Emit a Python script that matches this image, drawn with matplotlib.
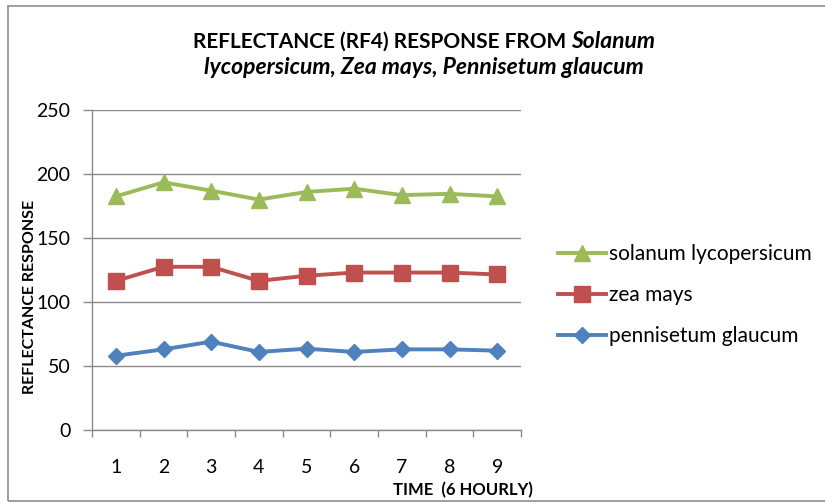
import matplotlib

matplotlib.use("Agg")
import matplotlib.pyplot as plt
from matplotlib.patches import Rectangle
from matplotlib.lines import Line2D

plt.rcParams["font.family"] = ["Lato", "DejaVu Sans"]

time_steps = [1, 2, 3, 4, 5, 6, 7, 8, 9]
solanum = [182.5, 193.5, 187, 180, 186, 188.5, 183.5, 184.5, 182.5]
zea = [116.5, 127.5, 127.5, 116.5, 120.5, 123, 123, 123, 121.5]
pennisetum = [58, 63, 69, 61, 63.5, 61, 63, 63, 62]
y_ticks = [0, 50, 100, 150, 200, 250]

GREEN = "#9BBB59"
RED = "#C0504D"
BLUE = "#4F81BD"
GRID = "#8a8a8a"

W, H = 825, 503
fig = plt.figure(figsize=(W / 100, H / 100), dpi=100)
fig.patch.set_facecolor("white")

# outer chart border (right edge runs off the image)
fig.add_artist(Rectangle((8 / W, 2 / H), 1.2, 495 / H, transform=fig.transFigure,
                         fill=False, edgecolor="#8c8c8c", linewidth=1.2))

ax = fig.add_axes([92 / W, 1 - 430 / H, (521 - 92) / W, (430 - 110) / H])

ax.plot(time_steps, solanum, color=GREEN, lw=2.8, marker="^", ms=11.5, label="solanum lycopersicum")
ax.plot(time_steps, zea, color=RED, lw=2.8, marker="s", ms=11.5, label="zea mays")
ax.plot(time_steps, pennisetum, color=BLUE, lw=2.8, marker="D", ms=8.5, label="pennisetum glaucum")

ax.set_xlim(0.5, 9.5)
ax.set_ylim(0, 250)
ax.set_yticks(y_ticks)
ax.set_xticks(time_steps)
ax.set_xticks([t - 0.5 for t in time_steps] + [9.5], minor=True)
ax.tick_params(axis="x", which="major", length=0, pad=21, labelsize=14, colors="black")
ax.tick_params(axis="x", which="minor", length=5, width=1, color=GRID, direction="out")
ax.tick_params(axis="y", length=6.5, width=1, color=GRID, pad=9, labelsize=14)
ax.grid(axis="y", color=GRID, lw=1)
ax.set_axisbelow(True)
for side in ("top", "right"):
    ax.spines[side].set_visible(False)
for side in ("left", "bottom"):
    ax.spines[side].set_color(GRID)
    ax.spines[side].set_linewidth(1)

fig.text(30 / W, 1 - 297 / H, "REFLECTANCE RESPONSE", rotation=90, ha="center", va="center",
         fontsize=11.5, fontweight="bold")
fig.text(463 / W, 1 - 490 / H, "TIME  (6 HOURLY)", ha="center", va="center",
         fontsize=12, fontweight="bold")

# title, mixed upright / italic
fig.text(566 / W, 1 - 42 / H, "REFLECTANCE (RF4) RESPONSE FROM", ha="right", va="center",
         fontsize=15, fontweight="bold")
fig.text(571 / W, 1 - 42 / H, "Solanum", ha="left", va="center",
         fontsize=16.5, fontweight="bold", fontstyle="italic")
fig.text(424 / W, 1 - 68 / H, "lycopersicum, Zea mays, Pennisetum glaucum", ha="center", va="center",
         fontsize=16.5, fontweight="bold", fontstyle="italic")

handles = [
    Line2D([], [], color=GREEN, lw=2.8, marker="^", ms=11.5),
    Line2D([], [], color=RED, lw=2.8, marker="s", ms=11.5),
    Line2D([], [], color=BLUE, lw=2.8, marker="D", ms=8.5),
]
labels = ["solanum lycopersicum", "zea mays", "pennisetum glaucum"]
fig.legend(handles, labels, loc="upper left", bbox_to_anchor=(548 / W, 1 - 234 / H),
           frameon=False, fontsize=15, handlelength=2.3, handletextpad=0.12,
           labelspacing=1.0, borderpad=0)

fig.savefig("out.png", dpi=100)
